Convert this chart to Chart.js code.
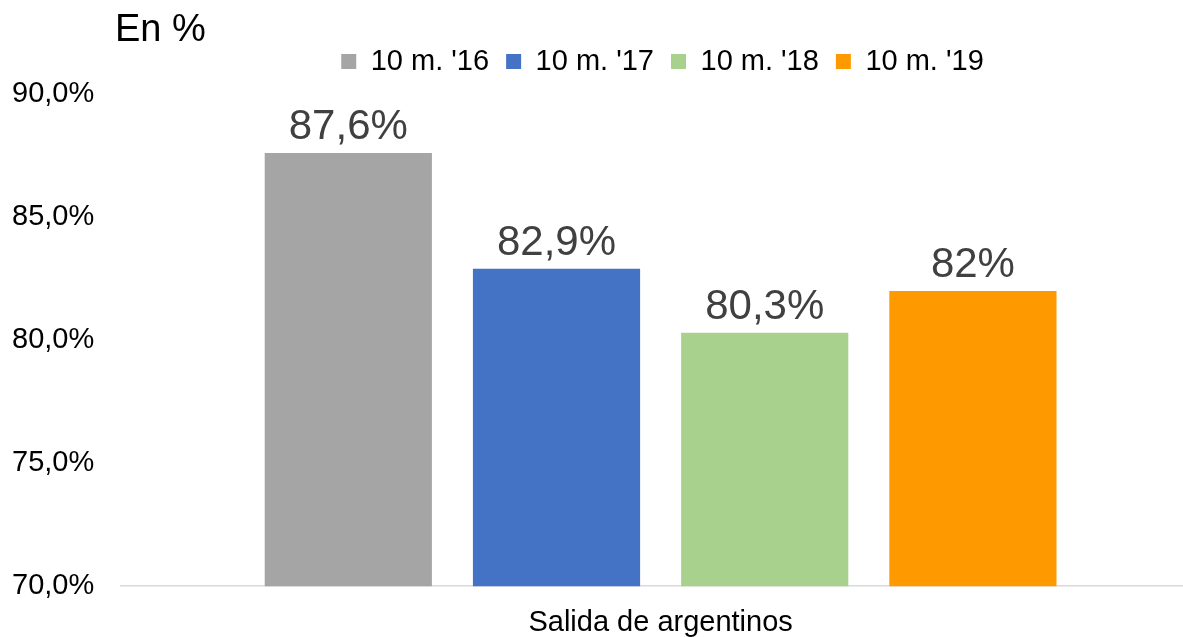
<!DOCTYPE html>
<html>
<head>
<meta charset="utf-8">
<script src="https://cdn.jsdelivr.net/npm/chart.js@4/dist/chart.umd.min.js"></script>
<style>
  html, body { margin: 0; padding: 0; background: #fff; overflow: hidden; }
  /* a little wider and taller than the window so the plot lines up like the original */
  .chart-area { width: 1215px; height: 659px; position: relative; margin-left: -15px; }
</style>
</head>
<body>
<div class="chart-area"><canvas id="myChart"></canvas></div>
<script>
// chart data
const categories = ['Salida de argentinos'];
const seriesNames = ["10 m. '16", "10 m. '17", "10 m. '18", "10 m. '19"];
const seriesValues = [87.6, 82.9, 80.3, 82];
const seriesColors = ['#A5A5A5', '#4472C4', '#A9D18E', '#FF9900'];
const yTicks = [70, 75, 80, 85, 90];

const font = 'Liberation Sans, Arial, sans-serif';

//turn 87.6 into 87,6%
const fmt = v => String(v).replace('.', ',') + '%';

//write the value above each bar
const barLabels = {
  id: 'barLabels',
  afterDatasetsDraw(chart) {
    const ctx = chart.ctx;
    ctx.save();
    ctx.font = '42px ' + font;
    ctx.fillStyle = '#404040';
    ctx.textAlign = 'center';
    ctx.textBaseline = 'alphabetic';
    chart.data.datasets.forEach((ds, i) => {
      chart.getDatasetMeta(i).data.forEach((bar, j) => {
        ctx.fillText(fmt(ds.data[j]), bar.x, bar.y - 14);
      });
    });
    ctx.restore();
  }
};

//"En %" in the top left corner
const unitTitle = {
  id: 'unitTitle',
  afterDraw(chart) {
    const ctx = chart.ctx;
    ctx.save();
    ctx.font = '38px ' + font;
    ctx.fillStyle = '#000';
    ctx.textAlign = 'left';
    ctx.textBaseline = 'middle';
    ctx.fillText('En %', 130, 31);
    ctx.restore();
  }
};

//legend takes a fixed height and sits a bit to the right, over the bars
const legendSpace = {
  id: 'legendSpace',
  beforeInit(chart) {
    const fit = chart.legend.fit;
    chart.legend.fit = function () {
      fit.call(this);
      this.height = 64;
    };
  },
  afterLayout(chart) {
    chart.legend.left += 70;
    chart.legend.right += 70;
  }
};

new Chart(document.getElementById('myChart'), {
  type: 'bar',
  data: {
    labels: categories,
    datasets: seriesNames.map((name, i) => ({
      label: name,
      data: [seriesValues[i]],
      backgroundColor: seriesColors[i],
      borderWidth: 0
    }))
  },
  options: {
    responsive: true,
    maintainAspectRatio: false,
    animation: false,
    categoryPercentage: 0.772,
    barPercentage: 0.803,
    layout: { padding: { left: 0, right: 0, top: 30, bottom: 0 } },
    scales: {
      x: {
        grid: { display: false, drawTicks: false },
        border: { display: true, color: '#D9D9D9', width: 1.5 },
        ticks: { color: '#000', padding: 19, font: { family: font, size: 29 } }
      },
      y: {
        min: 70,
        max: 90,
        afterBuildTicks: axis => { axis.ticks = yTicks.map(v => ({ value: v })); },
        grid: { display: false, drawTicks: false },
        border: { display: false },
        ticks: {
          color: '#000',
          padding: 27,
          font: { family: font, size: 29 },
          callback: v => v.toFixed(1).replace('.', ',') + '%'
        }
      }
    },
    plugins: {
      tooltip: { enabled: false },
      legend: {
        position: 'top',
        labels: {
          color: '#000',
          boxWidth: 15,
          boxHeight: 15,
          padding: 17,
          font: { family: font, size: 29 }
        }
      }
    }
  },
  plugins: [barLabels, unitTitle, legendSpace]
});
</script>
</body>
</html>
